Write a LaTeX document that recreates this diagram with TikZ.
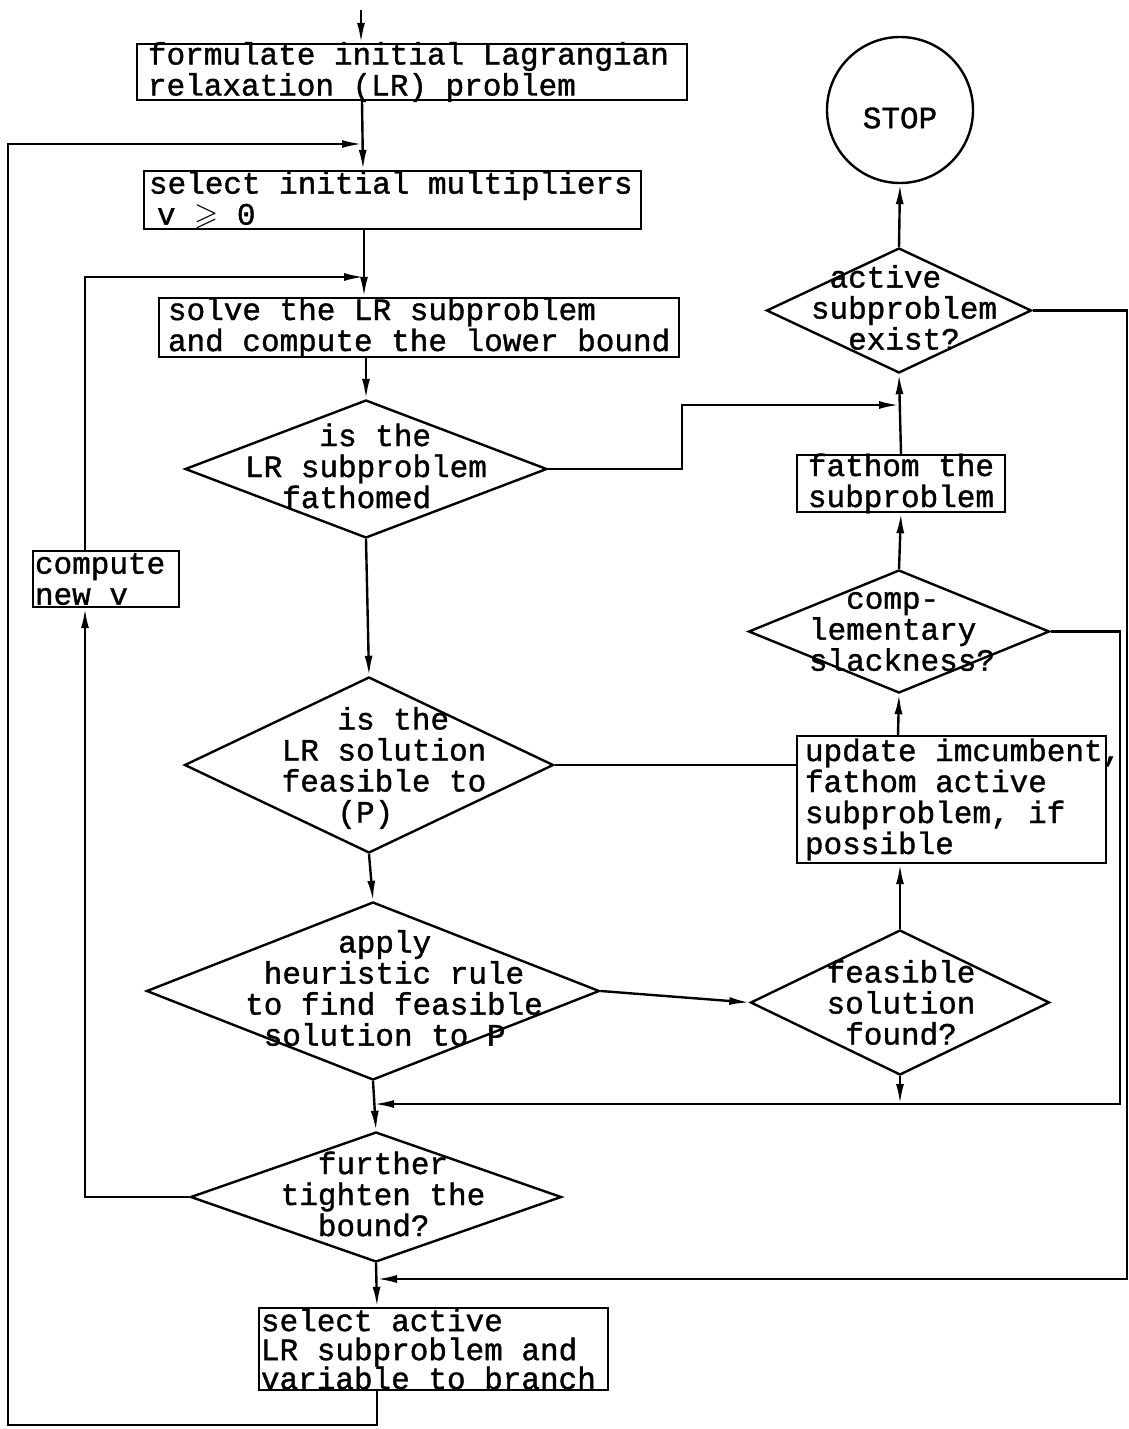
\documentclass[tikz,border=0pt]{standalone}
\usepackage{fontspec}
\usepackage{amssymb}
\usetikzlibrary{shapes.geometric,arrows.meta}
\newfontfamily\monofnt[UprightFeatures={FakeBold=1.2}]{Liberation Mono}
\newcommand\chartfont{\monofnt\fontsize{31pt}{31pt}\selectfont}
\newcommand\chartfontb{\monofnt\fontsize{31pt}{29pt}\selectfont}
\begin{document}
\begin{tikzpicture}[x=1pt,y=-1pt,
  line width=2.4pt,
  >={Latex[length=20pt,width=8pt]},
  boxnode/.style={draw, rectangle, inner sep=0pt},
  dianode/.style={draw, diamond, inner sep=0pt},
  txt/.style={font=\chartfont, align=left, inner sep=0pt},
]
\useasboundingbox[fill=white] (0,0) rectangle (1129,1429);

% ---- main column boxes
\node[boxnode, minimum width=550pt, minimum height=56pt,
  label={[txt, anchor=west, xshift=11pt]west:{formulate initial Lagrangian\\relaxation (LR) problem}}] (b1) at (412,72) {};
\node[boxnode, minimum width=497pt, minimum height=58pt,
  label={[txt, anchor=west, xshift=5pt]west:{select initial multipliers\\\hspace*{8pt}v $\geqslant$ 0}}] (b2) at (392.5,200) {};
\node[boxnode, minimum width=520pt, minimum height=59pt,
  label={[txt, anchor=west, xshift=9pt]west:{solve the LR subproblem\\and compute the lower bound}}] (b3) at (419,327.5) {};

% ---- main column diamonds
\node[dianode, minimum width=362pt, minimum height=138pt,
  label={[txt, yshift=3pt]center:{\hphantom{xxxx}is the\\LR subproblem\\\hphantom{xx}fathomed}}] (d1) at (366,469) {};
\node[dianode, minimum width=369pt, minimum height=176pt,
  label={[txt, xshift=15pt, yshift=-3pt]center:{\hphantom{xxx}is the\\LR solution\\feasible to\\\hphantom{xxx}(P)}}] (d2) at (369,765) {};
\node[dianode, minimum width=453pt, minimum height=178pt,
  label={[txt, xshift=21pt, yshift=3pt]center:{\hphantom{xxxxx}apply\\\hphantom{x}heuristic rule\\to find feasible\\\hphantom{x}solution to P}}] (d3) at (373,991) {};
\node[dianode, minimum width=371pt, minimum height=130pt,
  label={[txt, xshift=7pt, yshift=3pt]center:{\hphantom{xx}further\\tighten the\\\hphantom{xx}bound?}}] (fur) at (376,1197) {};
\node[boxnode, minimum width=349pt, minimum height=82pt,
  label={[txt, font=\chartfontb, anchor=west, xshift=2pt]west:{select active\\LR subproblem and\\variable to branch}}] (sel) at (433.5,1349) {};

% ---- left box
\node[boxnode, minimum width=146pt, minimum height=56pt,
  label={[txt, anchor=west, xshift=2pt]west:{compute\\new v}}] (cnv) at (106,579) {};

% ---- right column
\node[draw, circle, minimum size=146pt, inner sep=0pt,
  label={[txt, yshift=-8pt]center:STOP}] (stop) at (900,110) {};
\node[dianode, minimum width=265pt, minimum height=125pt,
  label={[txt, xshift=5pt, yshift=3pt]center:{\hphantom{x}active\\subproblem\\\hphantom{xx}exist?}}] (act) at (899,310.5) {};
\node[boxnode, minimum width=208pt, minimum height=57pt,
  label={[txt, anchor=west, xshift=11pt]west:{fathom the\\subproblem}}] (fath) at (901,483.5) {};
\node[dianode, minimum width=301pt, minimum height=123pt,
  label={[txt, xshift=3pt]center:{\hphantom{xx}comp-\\lementary\\slackness?}}] (comp) at (899,631.5) {};
\node[boxnode, minimum width=309pt, minimum height=127pt,
  label={[txt, anchor=west, xshift=8pt]west:{update imcumbent,\\fathom active\\subproblem, if\\possible}}] (upd) at (951.5,799.5) {};
\node[dianode, minimum width=299pt, minimum height=145pt,
  label={[txt, xshift=1pt]center:{feasible\\solution\\\hphantom{x}found?}}] (d4) at (900,1002.5) {};

% ---- coordinates
\coordinate (entry) at (361,10);
\coordinate (j1) at (362,144);
\coordinate (j2) at (364,277);
\coordinate (j3) at (899,405);
\coordinate (j4) at (374,1104);
\coordinate (j5) at (377,1279);
\coordinate (r1) at (1120,1104);
\coordinate (r2) at (1127,1279);
\coordinate (lb) at (8,1425);
\coordinate (lt) at (8,144);

% ---- main column connectors
\draw[->] (entry) -- ([xshift=-51pt]b1.north);
\draw[->] ([xshift=-50pt]b1.south) -- ([xshift=-29.5pt]b2.north);
\draw[->] ([xshift=-28.5pt]b2.south) -- ([xshift=-55pt]b3.north);
\draw[->] ([xshift=-53pt]b3.south) -- (d1.north);
\draw[->] (d1.south) -- (d2.north);
\draw[->] (d2.south) -- (d3.north);
\draw[->] (d3.south) -- (fur.north);
\draw[->] (fur.south) -- ([xshift=-56.5pt]sel.north);

% ---- right column connectors
\draw[->] (act.north) -- (stop.south);
\draw[->] (fath.north) -- (act.south);
\draw[->] (comp.north) -- (fath.south);
\draw[->] ([xshift=-53.5pt]upd.north) -- (comp.south);
\draw[->] (d4.north) -- ([xshift=-51.5pt]upd.south);

% ---- cross connectors
\draw[->] (d1.east) -- ++(134,0) |- (j3);
\draw (d2.east) -- (d2.east -| upd.west);
\draw[->] (d3.east) -- (d4.west);
\draw[->] (d4.south) -- (d4.south |- j4);
\draw[->] (comp.east) -| (r1) -- (j4);
\draw[->] (act.east) -| (r2) -- (j5);

% ---- loops on the left
\draw[->] (fur.west) -| ([xshift=-21pt]cnv.south);
\draw[->] ([xshift=-21pt]cnv.north) |- (j2);
\draw[->] ([xshift=-56.5pt]sel.south) |- (lb) -- (lt) -- (j1);
\end{tikzpicture}
\end{document}
